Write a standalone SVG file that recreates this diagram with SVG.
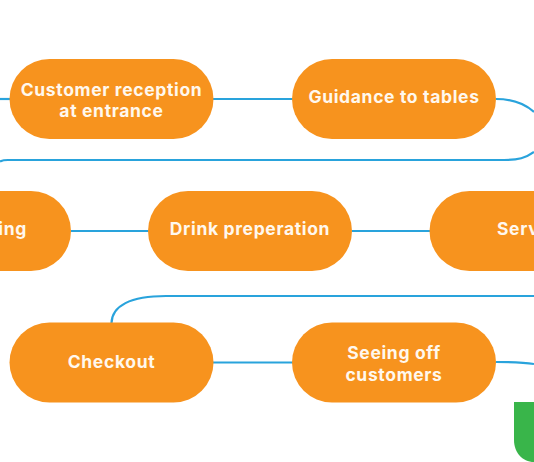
<svg xmlns="http://www.w3.org/2000/svg" width="534" height="462" viewBox="0 0 534 462">
<style>
.pill{fill:#f7931e}
.lbl{font-family:"Inter","Liberation Sans",sans-serif;font-weight:700;font-size:17.5px;fill:#fff8ee;text-anchor:middle;letter-spacing:.65px}
.c{fill:none;stroke:#29a3dc;stroke-width:2.2}
</style>
<rect width="534" height="462" fill="#fff"/>
<g id="connectors">
<path class="c" d="M0 99H10"/>
<path class="c" d="M213 99H293"/>
<path class="c" d="M496 99C512 99 524 103 534 112"/>
<path class="c" d="M534 152C526 158 518 160 504 160H8C4 160 2 160.500 0 161.500"/>
<path class="c" d="M71 231H149"/>
<path class="c" d="M352 231H430"/>
<path class="c" d="M534 296H166C130 296 112 306 111.500 323"/>
<path class="c" d="M213 362.500H293"/>
<path class="c" d="M496 362C510 362 522 362 534 364"/>
</g>
<g id="node-reception"><rect class="pill" x="9.500" y="59" width="204" height="80" rx="40"/><text class="lbl" x="111.500" y="95.500">Customer reception</text><text class="lbl" x="111.500" y="117">at entrance</text></g>
<g id="node-guidance"><rect class="pill" x="292" y="59" width="204" height="80" rx="40"/><text class="lbl" x="394" y="103">Guidance to tables</text></g>
<g id="node-ordering"><rect class="pill" x="-133" y="191" width="204" height="80" rx="40"/><text class="lbl" x="27" y="235" style="text-anchor:end">ing</text></g>
<g id="node-drink"><rect class="pill" x="148" y="191" width="204" height="80" rx="40"/><text class="lbl" x="250" y="235">Drink preperation</text></g>
<g id="node-serving"><rect class="pill" x="429.500" y="191" width="204" height="80" rx="40"/><text class="lbl" x="497" y="235" style="text-anchor:start">Serv</text></g>
<g id="node-checkout"><rect class="pill" x="9.500" y="322.500" width="204" height="80" rx="40"/><text class="lbl" x="111.500" y="367.500">Checkout</text></g>
<g id="node-seeing-off"><rect class="pill" x="292" y="322.500" width="204" height="80" rx="40"/><text class="lbl" x="394" y="359">Seeing off</text><text class="lbl" x="394" y="380.500">customers</text></g>
<path id="green-shape" d="M514 402H534V462C522 462 514 452 514 440Z" fill="#39b54a"/>
</svg>
